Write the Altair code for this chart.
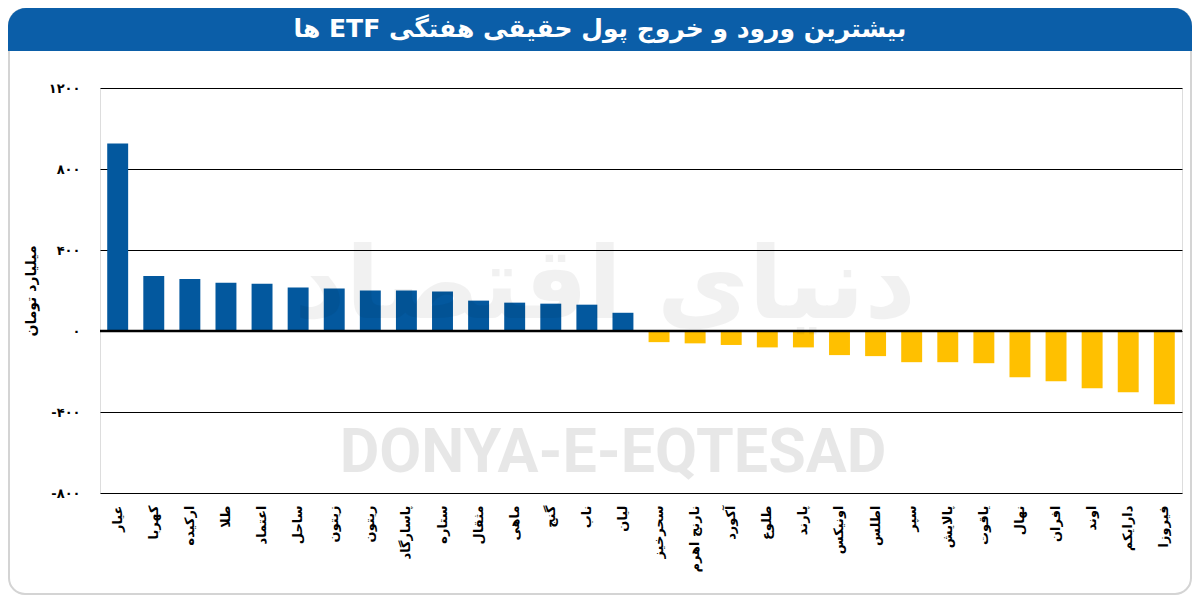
import altair as alt
import pandas as pd

funds = ["عیار", "کهربا", "ارکیده", "طلا", "اعتماد", "ساحل", "زیتون", "ریتون",
         "پاسارگاد", "ستاره", "مثقال", "ماهی", "گنج", "ناب", "لیان",
         "سحرخیز", "نارنج اهرم", "آکورد", "طلوع", "پارند", "اونیکس", "اطلس",
         "سپر", "پالایش", "یاقوت", "نهال", "افران", "اوند", "دارایکم", "فیروزا"]
flows = [926, 272, 257, 238, 233, 215, 210, 200, 200, 195, 150, 140, 135, 130, 90,
         -55, -61, -69, -81, -81, -119, -124, -154, -154, -159, -228, -248, -283, -303, -362]
tick_values = [-800, -400, 0, 400, 800, 1200]
tick_labels = ["-۸۰۰", "-۴۰۰", "۰", "۴۰۰", "۸۰۰", "۱۲۰۰"]
title_text = "بیشترین ورود و خروج پول حقیقی هفتگی ETF ها"
y_title = "میلیارد تومان"
watermark_latin = "DONYA-E-EQTESAD"
watermark_fa = "دنیای اقتصاد"

df = pd.DataFrame({
    "fund": funds,
    "flow": flows,
    "sign": ["in" if v >= 0 else "out" for v in flows],
})
one = pd.DataFrame({"k": [0]})

W, H = 1082, 405
label_expr = " : ".join(f"datum.value == {v} ? '{l}'" for v, l in zip(tick_values, tick_labels)) + " : ''"

FONT = "DejaVu Sans"

frame = alt.Chart(one).mark_rect(
    fill="white", fillOpacity=0, stroke="#d4d4d4", strokeWidth=2, cornerRadius=16
).encode(x=alt.value(-91), x2=alt.value(1091), y=alt.value(-79), y2=alt.value(506))

banner = alt.Chart(one).mark_rect(
    color="#0B5EA8", cornerRadiusTopLeft=18, cornerRadiusTopRight=18
).encode(x=alt.value(-92), x2=alt.value(1092), y=alt.value(-80), y2=alt.value(-37))

title = alt.Chart(one).mark_text(
    text="\u202b" + title_text + "\u202c", font=FONT, fontSize=25, fontWeight="bold",
    color="white", align="center", baseline="middle"
).encode(x=alt.value(500), y=alt.value(-59))

bars = alt.Chart(df).mark_bar().encode(
    x=alt.X("fund:N", sort=funds,
            scale=alt.Scale(paddingInner=0.42, paddingOuter=0.2),
            axis=alt.Axis(title=None, labelAngle=-90, labelFontSize=13, labelFontWeight="bold",
                          labelFont=FONT, labelColor="black", labelPadding=12,
                          domain=False, ticks=False, labelLimit=200)),
    y=alt.Y("flow:Q", scale=alt.Scale(domain=[-800, 1200], nice=False, zero=False),
            axis=alt.Axis(values=tick_values, labelExpr=label_expr, grid=True,
                          gridColor="black", gridWidth=1.2, gridOpacity=1,
                          domain=False, ticks=False, labelPadding=20,
                          labelFontSize=13, labelFontWeight="bold", labelFont=FONT,
                          labelColor="black", title=y_title, titleFont=FONT,
                          titleFontSize=14, titleFontWeight="bold", titleColor="black",
                          titlePadding=10)),
    color=alt.Color("sign:N", scale=alt.Scale(domain=["in", "out"], range=["#03589E", "#FFC000"]),
                    legend=None),
)

zero = alt.Chart(one).mark_rule(color="black", strokeWidth=2.5).encode(y=alt.datum(0))

wm_fa = alt.Chart(one).mark_text(
    text=watermark_fa, font=FONT, fontSize=100, fontWeight="bold", color="black",
    opacity=0.05, align="center", baseline="middle"
).encode(x=alt.value(505), y=alt.value(200))

wm_lat = alt.Chart(one).mark_text(
    text=watermark_latin, font="Roboto", fontSize=61, fontWeight="bold", color="black",
    opacity=0.09, align="center", baseline="alphabetic"
).encode(x=alt.value(513), y=alt.value(384))

chart = alt.layer(frame, banner, title, bars, zero, wm_fa, wm_lat).properties(
    width=W, height=H,
    autosize=alt.AutoSizeParams(type="none"),
    padding={"left": 92, "top": 80, "right": 10, "bottom": 102},
).configure_view(stroke=None).configure(background="white")

chart.save("out.html", embed_options={"renderer": "svg", "actions": False})
